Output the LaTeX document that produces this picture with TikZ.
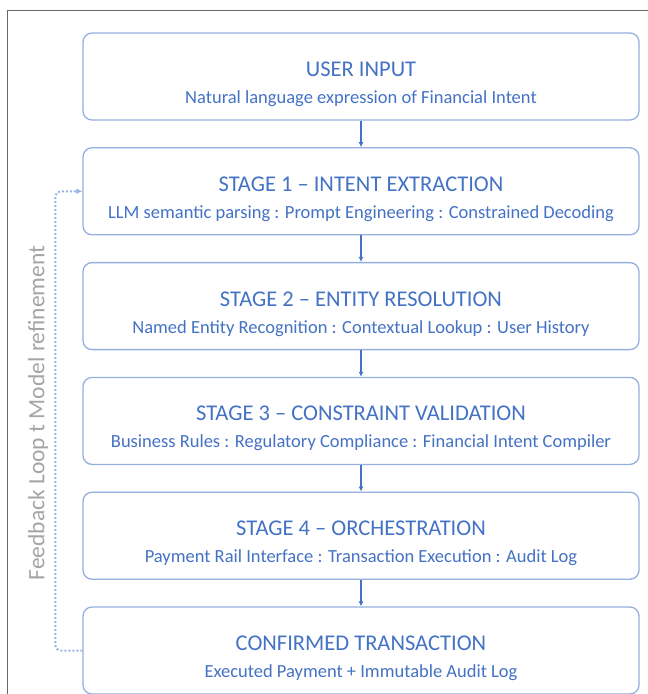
\documentclass[tikz,border=0pt]{standalone}
\usepackage{fontspec}
\setmainfont{Carlito}
\usepackage{tikz}
\usetikzlibrary{arrows.meta, positioning, calc}
\definecolor{stageblue}{RGB}{68,114,196}
\definecolor{edgeblue}{RGB}{150,175,225}
\definecolor{loopblue}{RGB}{155,178,232}
\definecolor{framegray}{RGB}{105,105,105}
\definecolor{notegray}{RGB}{165,165,165}
\newcommand{\stagetitle}[1]{{\rule{0pt}{30pt}\fontsize{22.5}{26}\selectfont #1}}
\newcommand{\stagesub}[1]{{\fontsize{18.5}{21}\selectfont #1}}

\begin{document}
\begin{tikzpicture}[
    x=1pt, y=-1pt,
    stagebox/.style={rectangle, draw=edgeblue, line width=1.3pt, rounded corners=9pt,
                 minimum width=556pt, minimum height=87pt, align=center,
                 text=stageblue, fill=white, inner sep=0pt},
    flow/.style={-{Latex[length=5pt,width=5pt]}, draw=stageblue, line width=1.6pt},
    feedback/.style={-{Latex[length=6pt,width=6pt]}, draw=loopblue, line width=2pt,
                 dotted, rounded corners=5pt},
    node distance=26.5pt
]
    \useasboundingbox (0,0) rectangle (648,694);
    \draw[framegray, line width=0.8pt] (7,694) -- (7,10) -- (648,10);

    \node[stagebox] (input) at (361,76.5)
        {\stagetitle{USER INPUT}\\[13pt]
         \stagesub{Natural language expression of Financial Intent}};
    \node[stagebox, below=of input] (extract)
        {\stagetitle{STAGE 1 -- INTENT EXTRACTION}\\[13pt]
         \stagesub{LLM semantic parsing : Prompt Engineering : Constrained Decoding}};
    \node[stagebox, below=of extract] (resolve)
        {\stagetitle{STAGE 2 -- ENTITY RESOLUTION}\\[13pt]
         \stagesub{Named Entity Recognition : Contextual Lookup : User History}};
    \node[stagebox, below=of resolve] (validate)
        {\stagetitle{STAGE 3 -- CONSTRAINT VALIDATION}\\[13pt]
         \stagesub{Business Rules : Regulatory Compliance : Financial Intent Compiler}};
    \node[stagebox, below=of validate] (orchestrate)
        {\stagetitle{STAGE 4 -- ORCHESTRATION}\\[13pt]
         \stagesub{Payment Rail Interface : Transaction Execution : Audit Log}};
    \node[stagebox, below=of orchestrate] (confirmed)
        {\stagetitle{CONFIRMED TRANSACTION}\\[13pt]
         \stagesub{Executed Payment + Immutable Audit Log}};

    \draw[flow] (input) -- (extract);
    \draw[flow] (extract) -- (resolve);
    \draw[flow] (resolve) -- (validate);
    \draw[flow] (validate) -- (orchestrate);
    \draw[flow] (orchestrate) -- (confirmed);

    % feedback path on the left
    \draw[feedback] (confirmed.west) -- ++(-27,0) |- (extract.west);
    \node[rotate=90, text=notegray, font=\fontsize{23.5}{26}\selectfont] (looplabel) at (38,413)
        {Feedback Loop t Model refinement};
\end{tikzpicture}
\end{document}
